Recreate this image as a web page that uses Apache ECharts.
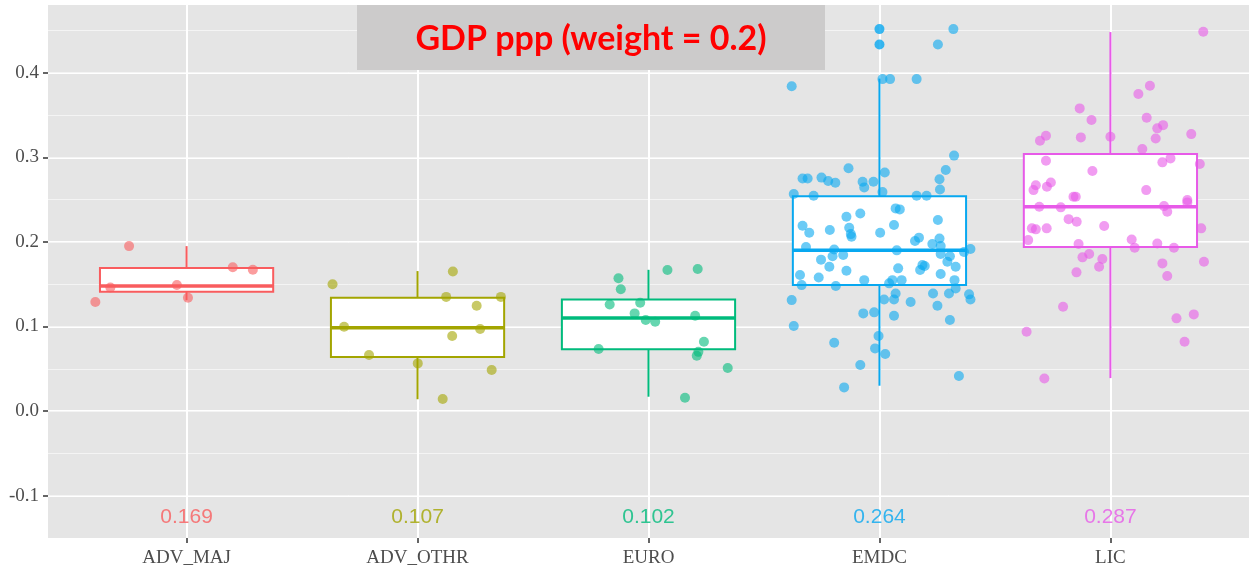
<!DOCTYPE html>
<html>
<head>
<meta charset="utf-8">
<title>GDP ppp (weight = 0.2)</title>
<script src="https://cdn.jsdelivr.net/npm/echarts@6/dist/echarts.min.js"></script>
<style>
  html, body { margin: 0; padding: 0; background: #fff; }
  #chart { width: 1249px; height: 577px; }
</style>
</head>
<body>
<div id="chart"></div>
<script>
const categories = ['ADV_MAJ', 'ADV_OTHR', 'EURO', 'EMDC', 'LIC'];
const groupColors = ['#f95c5e', '#a3a500', '#00bb7c', '#08a8f0', '#e75ae8'];
const meanLabels = [0.169, 0.107, 0.102, 0.264, 0.287];
const yTickValues = [-0.1, 0.0, 0.1, 0.2, 0.3, 0.4];

// [low whisker, q1, median, q3, high whisker]
const boxStats = [
  [0.131, 0.141, 0.148, 0.169, 0.195],
  [0.014, 0.064, 0.0985, 0.134, 0.1655],
  [0.017, 0.073, 0.110, 0.132, 0.167],
  [0.030, 0.149, 0.190, 0.254, 0.393],
  [0.039, 0.194, 0.2415, 0.304, 0.448]
];
const emdcOutliers = [0.4515, 0.4334];

// jittered points: [offset from the category centre, value]
const advMajPoints = [
  [-0.249, 0.195], [0.200, 0.170], [0.287, 0.167], [-0.330, 0.146],
  [-0.042, 0.149], [0.006, 0.134], [-0.395, 0.129]
];
const advOthrPoints = [
  [-0.368, 0.150], [0.153, 0.165], [0.124, 0.135], [0.361, 0.135],
  [0.256, 0.1245], [-0.318, 0.0997], [0.271, 0.097], [0.150, 0.0887],
  [-0.210, 0.0662], [0.001, 0.0564], [0.321, 0.0485], [0.109, 0.0142]
];
const euroPoints = [
  [0.082, 0.1667], [0.213, 0.168], [-0.130, 0.157], [-0.120, 0.144],
  [-0.168, 0.126], [-0.036, 0.128], [-0.060, 0.1155], [-0.012, 0.1076],
  [0.029, 0.1056], [0.202, 0.1127], [0.240, 0.082], [0.216, 0.070],
  [0.209, 0.0654], [-0.216, 0.0733], [0.343, 0.051], [0.158, 0.0157]
];
const emdcPoints = [
  [0.320, 0.4515], [0.253, 0.4334], [-0.380, 0.384], [0.013, 0.3924],
  [0.046, 0.3924], [0.161, 0.3924], [0.323, 0.302], [-0.134, 0.287],
  [0.287, 0.285], [0.023, 0.282], [-0.333, 0.275], [-0.311, 0.275],
  [-0.251, 0.276], [-0.222, 0.272], [-0.191, 0.270], [-0.073, 0.271],
  [-0.066, 0.2644], [-0.026, 0.271], [0.260, 0.274], [0.262, 0.262],
  [-0.371, 0.2565], [-0.285, 0.2545], [0.013, 0.259], [0.161, 0.2545],
  [0.204, 0.2545], [0.070, 0.2396], [0.088, 0.2384], [-0.143, 0.2297],
  [-0.083, 0.2336], [0.253, 0.2258], [-0.333, 0.219], [0.063, 0.2199],
  [-0.304, 0.2108], [-0.215, 0.214], [-0.131, 0.2167], [-0.124, 0.2092],
  [-0.121, 0.206], [0.003, 0.2108], [0.154, 0.201], [0.171, 0.205],
  [0.229, 0.1974], [0.260, 0.204], [0.265, 0.195], [-0.318, 0.194],
  [-0.196, 0.191], [0.394, 0.1915], [0.366, 0.188], [0.075, 0.190],
  [-0.253, 0.179], [-0.203, 0.183], [-0.157, 0.1844], [0.265, 0.1856],
  [0.294, 0.1765], [0.305, 0.183], [0.330, 0.1706], [-0.217, 0.1706],
  [-0.143, 0.1658], [0.081, 0.1687], [0.176, 0.1667], [0.186, 0.1726],
  [0.196, 0.1714], [0.265, 0.162], [-0.344, 0.1608], [-0.263, 0.158],
  [-0.066, 0.1548], [-0.337, 0.1489], [-0.189, 0.1478], [0.042, 0.151],
  [0.056, 0.1548], [0.096, 0.1548], [0.325, 0.1548], [0.330, 0.145],
  [0.301, 0.139], [0.232, 0.139], [0.070, 0.139], [0.388, 0.138],
  [0.394, 0.132], [-0.380, 0.1312], [0.020, 0.132], [0.063, 0.132],
  [0.135, 0.129], [0.251, 0.1245], [-0.070, 0.1155], [-0.023, 0.1167],
  [0.063, 0.1127], [0.305, 0.1076], [-0.371, 0.1005], [-0.004, 0.0887],
  [-0.196, 0.0807], [-0.019, 0.0741], [0.025, 0.0674], [-0.083, 0.0544],
  [0.344, 0.0414], [-0.153, 0.028]
];
const licPoints = [
  [0.402, 0.4484], [0.171, 0.3846], [0.121, 0.3747], [-0.133, 0.3578],
  [-0.082, 0.344], [0.157, 0.3467], [0.203, 0.3342], [0.228, 0.338],
  [0.196, 0.3223], [-0.279, 0.3254], [-0.305, 0.3195], [-0.128, 0.3235],
  [0.000, 0.3243], [0.350, 0.3274], [0.138, 0.3097], [0.225, 0.294],
  [0.260, 0.2987], [0.387, 0.292], [-0.279, 0.2959], [-0.078, 0.2837],
  [-0.323, 0.267], [-0.333, 0.2612], [-0.275, 0.2651], [-0.258, 0.2703],
  [0.155, 0.2612], [-0.160, 0.2533], [-0.150, 0.2533], [0.333, 0.2494],
  [-0.308, 0.2415], [-0.215, 0.2408], [0.232, 0.2423], [0.246, 0.2356],
  [0.333, 0.2467], [-0.181, 0.2269], [-0.146, 0.2238], [-0.027, 0.2187],
  [-0.340, 0.216], [-0.323, 0.2148], [-0.276, 0.216], [0.393, 0.216],
  [-0.356, 0.2021], [-0.138, 0.1974], [0.092, 0.2029], [0.105, 0.193],
  [0.203, 0.1982], [0.275, 0.193], [-0.121, 0.1817], [-0.092, 0.1856],
  [-0.035, 0.1797], [-0.049, 0.1706], [-0.147, 0.164], [0.225, 0.1746],
  [0.405, 0.1765], [0.246, 0.1596], [-0.205, 0.1233], [0.286, 0.1096],
  [0.361, 0.1143], [-0.363, 0.0937], [0.321, 0.0819], [-0.286, 0.0386]
];
const groupPoints = [advMajPoints, advOthrPoints, euroPoints, emdcPoints, licPoints];

const serifFont = 'Liberation Serif';
const axisGray = '#4d4d4d';
const hiddenLine = { show: true, onZero: false, lineStyle: { color: 'rgba(0,0,0,0)' } };

const chart = echarts.init(document.getElementById('chart'));

function renderBox(params, api) {
  const x = api.value(0);
  const c = groupColors[params.dataIndex];
  const halfW = api.size([0.75, 0])[0] / 2;
  const pLow = api.coord([x, api.value(1)]);
  const pQ1 = api.coord([x, api.value(2)]);
  const pMed = api.coord([x, api.value(3)]);
  const pQ3 = api.coord([x, api.value(4)]);
  const pHigh = api.coord([x, api.value(5)]);
  return {
    type: 'group',
    children: [
      { type: 'line', shape: { x1: pQ3[0], y1: pQ3[1], x2: pHigh[0], y2: pHigh[1] }, style: { stroke: c, lineWidth: 2 } },
      { type: 'line', shape: { x1: pQ1[0], y1: pQ1[1], x2: pLow[0], y2: pLow[1] }, style: { stroke: c, lineWidth: 2 } },
      { type: 'rect', shape: { x: pQ3[0] - halfW, y: pQ3[1], width: halfW * 2, height: pQ1[1] - pQ3[1] }, style: { fill: '#fff', stroke: c, lineWidth: 2 } },
      { type: 'line', shape: { x1: pMed[0] - halfW, y1: pMed[1], x2: pMed[0] + halfW, y2: pMed[1] }, style: { stroke: c, lineWidth: 3.5 } }
    ]
  };
}

const series = [
  {
    type: 'custom',
    name: 'box',
    renderItem: renderBox,
    encode: { x: 0, y: [1, 2, 3, 4, 5] },
    data: boxStats.map((s, i) => [i + 1].concat(s)),
    z: 2,
    silent: true
  },
  {
    type: 'scatter',
    name: 'outliers',
    symbolSize: 10,
    itemStyle: { color: groupColors[3] },
    data: emdcOutliers.map(v => [4, v]),
    z: 3
  }
];

groupPoints.forEach((pts, i) => {
  series.push({
    type: 'scatter',
    name: categories[i],
    symbolSize: 10,
    itemStyle: { color: groupColors[i], opacity: 0.6 },
    data: pts.map(p => [i + 1 + p[0], p[1]]),
    z: 4
  });
});

series.push({
  type: 'scatter',
  name: 'means',
  symbolSize: 0,
  data: meanLabels.map((m, i) => ({
    value: [i + 1, -0.125, m],
    label: { color: groupColors[i] }
  })),
  label: {
    show: true,
    position: 'inside',
    fontFamily: 'Liberation Sans',
    fontSize: 21,
    formatter: p => p.value[2].toFixed(3)
  },
  z: 5,
  silent: true
});

const option = {
  animation: false,
  backgroundColor: '#fff',
  grid: {
    left: 48,
    right: -3,
    top: 5,
    bottom: 39,
    show: true,
    backgroundColor: '#e5e5e5',
    borderWidth: 0
  },
  graphic: [
    { type: 'rect', shape: { x: 357, y: 5, width: 468, height: 65 }, style: { fill: '#cccbcb' }, z: 100 },
    {
      type: 'text', x: 591, y: 39, z: 101,
      style: { text: 'GDP ppp (weight = 0.2)', fill: '#ff0000', font: 'bold 34px Lato', align: 'center', verticalAlign: 'middle' }
    }
  ],
  xAxis: {
    type: 'value',
    position: 'bottom',
    min: 0.4,
    max: 5.6,
    axisLine: hiddenLine,
    axisTick: { show: true, customValues: [1, 2, 3, 4, 5], length: 5, lineStyle: { color: '#333', width: 1.5 } },
    axisLabel: {
      customValues: [1, 2, 3, 4, 5],
      formatter: v => categories[Math.round(v) - 1],
      color: axisGray,
      fontFamily: serifFont,
      fontSize: 19,
      margin: 11
    },
    splitLine: { show: true, showMinLine: true, showMaxLine: true, lineStyle: { color: '#fff', width: 2 } }
  },
  yAxis: [
    {
      type: 'value',
      position: 'left',
      min: -0.15,
      max: 0.48,
      interval: 0.05,
      axisLine: hiddenLine,
      axisTick: { show: true, customValues: yTickValues, length: 5, lineStyle: { color: '#333', width: 1.5 } },
      axisLabel: {
        customValues: yTickValues,
        formatter: v => v.toFixed(1),
        color: axisGray,
        fontFamily: serifFont,
        fontSize: 19,
        margin: 9
      },
      splitLine: { show: true, showMinLine: true, showMaxLine: true, lineStyle: { color: '#fff', width: 2 } }
    },
    {
      type: 'value',
      position: 'left',
      min: -0.15,
      max: 0.48,
      interval: 0.05,
      axisLine: { show: false, onZero: false },
      axisTick: { show: false },
      axisLabel: { show: false },
      splitLine: { show: true, showMinLine: false, showMaxLine: false, lineStyle: { color: '#f4f4f4', width: 1 } }
    }
  ],
  series: series
};

chart.setOption(option);
</script>
</body>
</html>
